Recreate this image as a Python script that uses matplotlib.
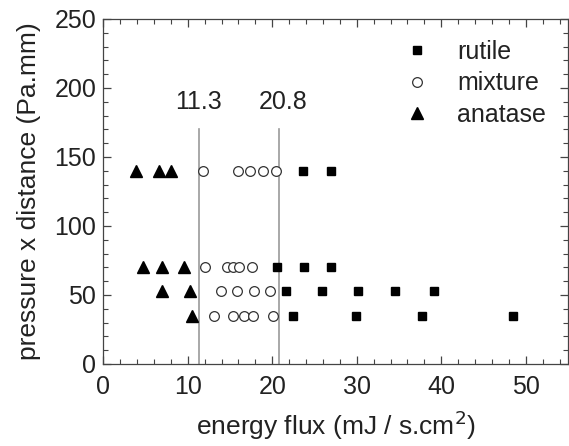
import numpy as np
import matplotlib.pyplot as plt
from matplotlib.ticker import MultipleLocator

plt.rcParams['font.family'] = ['Liberation Sans', 'DejaVu Sans']

# phase data: energy flux (mJ / s.cm2) vs pressure x distance (Pa.mm)
rutile_x = [23.6, 26.9, 20.6, 23.8, 27.0, 21.6, 25.9, 30.1, 34.5, 39.1, 22.5, 29.9, 37.7, 48.5]
rutile_y = [140, 140, 70, 70, 70, 52.5, 52.5, 52.5, 52.5, 52.5, 35, 35, 35, 35]

mixture_x = [11.8, 16.0, 17.4, 18.9, 20.4,
             12.0, 14.6, 15.4, 16.1, 17.6,
             13.9, 15.8, 17.8, 19.7,
             13.1, 15.4, 16.6, 17.7, 20.1]
mixture_y = [140] * 5 + [70] * 5 + [52.5] * 4 + [35] * 5

anatase_x = [3.9, 6.6, 8.0, 4.7, 7.0, 9.5, 7.0, 10.3, 10.5]
anatase_y = [140, 140, 140, 70, 70, 70, 52.5, 52.5, 35]

# phase boundaries
bounds = [11.3, 20.8]
bound_labels = ['11.3', '20.8']

fig = plt.figure(figsize=(5.69, 4.46), dpi=100)
ax = fig.add_axes([0.1815, 0.184, 0.8167, 0.7735])

txt = '#222222'
for b in bounds:
    ax.plot([b, b], [0, 170], color='#9a9a9a', lw=1.2, zorder=1)
for b, lab in zip(bounds, bound_labels):
    ax.text(b + (0.5 if b > 15 else 0), 190, lab, ha='center', va='center',
            fontsize=18, color=txt)

ax.plot(rutile_x, rutile_y, 's', ms=6.2, color='black', mec='black', ls='none',
        label='rutile', zorder=3)
ax.plot(mixture_x, mixture_y, 'o', ms=7, mfc='white', mec='#333333', mew=0.9,
        ls='none', label='mixture', zorder=3)
ax.plot(anatase_x, anatase_y, '^', ms=8.5, color='black', ls='none',
        label='anatase', zorder=3)

ax.set_xlim(0, 55)
ax.set_ylim(0, 250)
ax.xaxis.set_major_locator(MultipleLocator(10))
ax.xaxis.set_minor_locator(MultipleLocator(2))
ax.yaxis.set_major_locator(MultipleLocator(50))
ax.yaxis.set_minor_locator(MultipleLocator(10))
ax.tick_params(which='both', direction='in', top=True, right=True, colors='#444444',
               labelcolor=txt, labelsize=18)
ax.tick_params(which='major', length=6, width=0.9)
ax.tick_params(which='minor', length=3.5, width=0.8)
ax.tick_params(axis='x', pad=8)
ax.tick_params(axis='y', pad=5)
for s in ax.spines.values():
    s.set_color('#444444')
    s.set_linewidth(0.9)

ax.set_xlabel('energy flux (mJ / s.cm$^{2}$)', fontsize=19, color=txt, labelpad=7)
ax.set_ylabel('pressure x distance (Pa.mm)', fontsize=19, color=txt, labelpad=10)

ax.legend(loc='upper right', frameon=False, fontsize=18, handletextpad=0.6,
          labelspacing=0.3, borderaxespad=0.3, bbox_to_anchor=(0.99, 0.99),
          labelcolor=txt)

fig.savefig('out.png', dpi=100)
